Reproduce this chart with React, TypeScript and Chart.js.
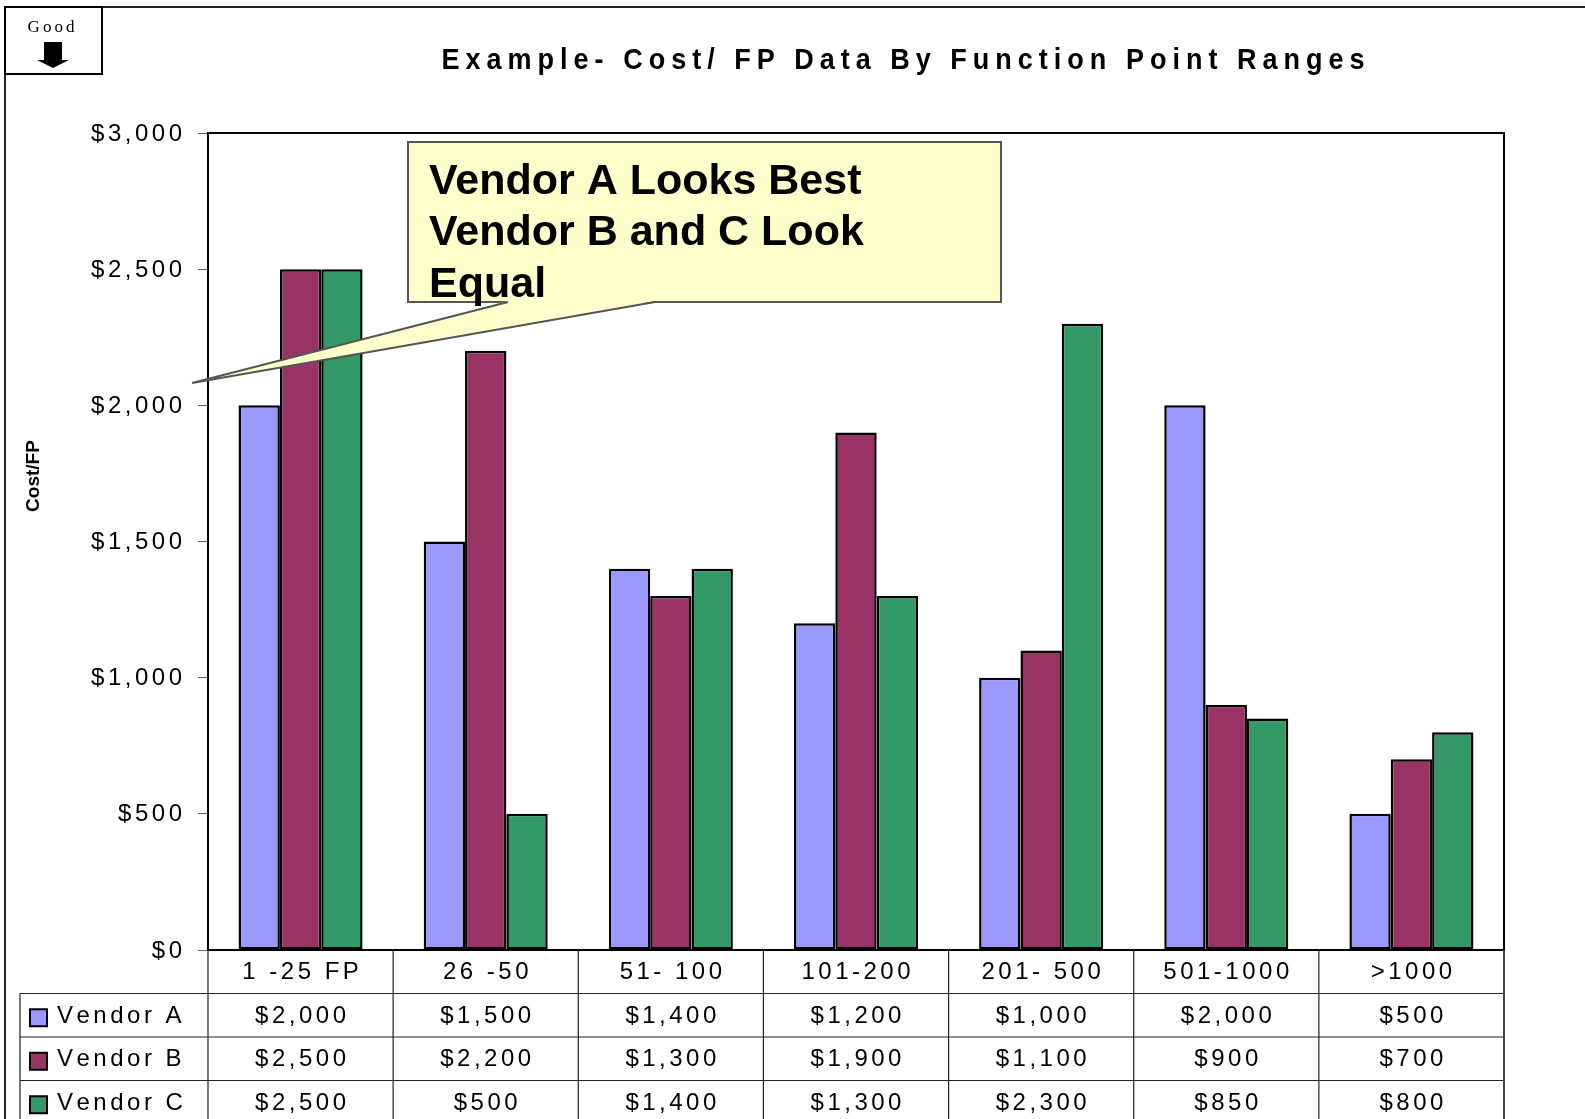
import React, { useEffect, useRef } from "react";
import { Chart, registerables } from "chart.js";

Chart.register(...registerables);

const categories = ["1 -25 FP", "26 -50", "51- 100", "101-200", "201- 500", "501-1000", ">1000"];
const vendorA = [2000, 1500, 1400, 1200, 1000, 2000, 500];
const vendorB = [2500, 2200, 1300, 1900, 1100, 900, 700];
const vendorC = [2500, 500, 1400, 1300, 2300, 850, 800];
const seriesNames = ["Vendor A", "Vendor B", "Vendor C"];
const seriesColors = ["#9999FF", "#993366", "#339966"];
const yMin = 0;
const yMax = 3000;
const yStep = 500;
const titleText = "Example- Cost/ FP Data By Function Point Ranges";
const yAxisTitle = "Cost/FP";
const calloutLines = ["Vendor A Looks Best", "Vendor B and C Look", "Equal"];
const badgeText = "Good";

const SANS = '"Liberation Sans", Arial, sans-serif';
const SERIF = '"Liberation Serif", "Times New Roman", serif';

const fmt = (v: number) => "$" + v.toLocaleString("en-US");

function drawSpaced(
  ctx: CanvasRenderingContext2D,
  text: string,
  x: number,
  y: number,
  spacing: number,
  align: "left" | "center" | "right",
  hScale = 1
) {
  const chars = Array.from(text);
  const widths = chars.map((c) => ctx.measureText(c).width * hScale);
  const total = widths.reduce((a, b) => a + b, 0) + spacing * (chars.length - 1);
  let cx = align === "center" ? x - total / 2 : align === "right" ? x - total : x;
  ctx.save();
  ctx.textAlign = "left";
  chars.forEach((c, i) => {
    ctx.save();
    ctx.translate(cx, y);
    ctx.scale(hScale, 1);
    ctx.fillText(c, 0, 0);
    ctx.restore();
    cx += widths[i] + spacing;
  });
  ctx.restore();
  return total;
}

const overlayPlugin = {
  id: "overlay",
  beforeDraw(chart: any) {
    const ctx = chart.ctx as CanvasRenderingContext2D;
    ctx.save();
    ctx.fillStyle = "#ffffff";
    ctx.fillRect(0, 0, chart.width, chart.height);
    ctx.restore();
  },
  afterDraw(chart: any) {
    const ctx = chart.ctx as CanvasRenderingContext2D;
    const ca = chart.chartArea;
    const xs = chart.scales.x;
    const ys = chart.scales.y;
    const H = chart.height;
    const W = chart.width;

    ctx.save();
    ctx.textBaseline = "middle";
    ctx.fillStyle = "#000";

    // plot frame top & right
    ctx.strokeStyle = "#000";
    ctx.lineWidth = 2;
    ctx.beginPath();
    ctx.moveTo(ca.left, ca.top);
    ctx.lineTo(ca.right, ca.top);
    ctx.lineTo(ca.right, ca.bottom);
    ctx.stroke();

    // y tick labels
    ctx.font = `24px ${SANS}`;
    ys.ticks.forEach((t: any) => {
      const py = ys.getPixelForValue(t.value);
      drawSpaced(ctx, fmt(t.value), ca.left - 26, py + 1, 3.5, "right");
    });

    // y axis title
    ctx.save();
    ctx.translate(34, 476);
    ctx.rotate(-Math.PI / 2);
    ctx.font = `bold 19px ${SANS}`;
    ctx.textAlign = "center";
    ctx.fillText(yAxisTitle, 0, 0);
    ctx.restore();

    // title (condensed, letter-spaced)
    ctx.font = `bold 30px ${SANS}`;
    {
      const hs = 0.9;
      const chars = Array.from(titleText);
      const raw = chars.reduce((a, c) => a + ctx.measureText(c).width * hs, 0);
      const sp = (923 - raw) / (chars.length - 1);
      drawSpaced(ctx, titleText, 903, 61, sp, "center", hs);
    }

    // data table
    const n = categories.length;
    const colW = (ca.right - ca.left) / n;
    const headerTop = ca.bottom;
    const rowH = 43.5;
    const rowTops = [headerTop + rowH, headerTop + 2 * rowH, headerTop + 3 * rowH];
    const tableLeft = 20;

    ctx.strokeStyle = "#222";
    ctx.lineWidth = 1.2;
    ctx.beginPath();
    for (let i = 0; i < n; i++) {
      const bx = xs.getPixelForValue(i) - colW / 2;
      ctx.moveTo(bx, headerTop);
      ctx.lineTo(bx, H);
    }
    ctx.moveTo(tableLeft, rowTops[0]);
    ctx.lineTo(tableLeft, H);
    rowTops.forEach((ry) => {
      ctx.moveTo(tableLeft, ry);
      ctx.lineTo(ca.right, ry);
    });
    ctx.stroke();
    ctx.strokeStyle = "#444";
    ctx.lineWidth = 2;
    ctx.beginPath();
    ctx.moveTo(ca.right, headerTop);
    ctx.lineTo(ca.right, H);
    ctx.stroke();

    ctx.fillStyle = "#000";
    ctx.font = `24px ${SANS}`;
    categories.forEach((c, i) => {
      drawSpaced(ctx, c, xs.getPixelForValue(i), headerTop + rowH / 2 + 0.5, 3.5, "center");
    });
    const allSeries = [vendorA, vendorB, vendorC];
    allSeries.forEach((vals, si) => {
      const cy = rowTops[si] + rowH / 2 + 1;
      // legend swatch
      ctx.fillStyle = seriesColors[si];
      ctx.fillRect(30, cy - 7, 17, 17);
      ctx.strokeStyle = "#000";
      ctx.lineWidth = 2;
      ctx.strokeRect(30, cy - 7, 17, 17);
      ctx.fillStyle = "#000";
      drawSpaced(ctx, seriesNames[si], 57, cy, 3.5, "left");
      vals.forEach((v, i) => {
        drawSpaced(ctx, fmt(v), xs.getPixelForValue(i), cy, 3.5, "center");
      });
    });

    // callout
    ctx.fillStyle = "#FFFFCC";
    ctx.strokeStyle = "#555";
    ctx.lineWidth = 2;
    ctx.fillRect(408, 142, 593, 160);
    ctx.strokeRect(408, 142, 593, 160);
    ctx.beginPath();
    ctx.moveTo(508, 301);
    ctx.lineTo(192, 383);
    ctx.lineTo(655, 301);
    ctx.closePath();
    ctx.fill();
    ctx.beginPath();
    ctx.moveTo(508, 302);
    ctx.lineTo(192, 383);
    ctx.lineTo(655, 302);
    ctx.stroke();
    ctx.fillStyle = "#000";
    ctx.font = `bold 43px ${SANS}`;
    ctx.textAlign = "left";
    calloutLines.forEach((l, i) => {
      ctx.fillText(l, 429, 182 + i * 51.5);
    });

    // outer frame
    ctx.strokeStyle = "#222";
    ctx.lineWidth = 2;
    ctx.beginPath();
    ctx.moveTo(102, 7);
    ctx.lineTo(W, 7);
    ctx.moveTo(5, 74);
    ctx.lineTo(5, H);
    ctx.stroke();

    // "Good" badge
    ctx.fillStyle = "#fff";
    ctx.fillRect(5, 7, 97, 67);
    ctx.strokeStyle = "#000";
    ctx.lineWidth = 2;
    ctx.strokeRect(5, 7, 97, 67);
    ctx.fillStyle = "#000";
    ctx.font = `17px ${SERIF}`;
    drawSpaced(ctx, badgeText, 51, 28, 3, "center");
    ctx.fillRect(44, 42, 18, 18);
    ctx.beginPath();
    ctx.moveTo(37, 60);
    ctx.lineTo(69, 60);
    ctx.lineTo(53, 68);
    ctx.closePath();
    ctx.fill();

    ctx.restore();
  },
};

export default function App() {
  const ref = useRef<HTMLCanvasElement | null>(null);

  useEffect(() => {
    document.body.style.margin = "0";
    document.body.style.overflow = "hidden";
    if (!ref.current) return;
    const series = [vendorA, vendorB, vendorC];
    const chart = new Chart(ref.current, {
      type: "bar",
      data: {
        labels: categories,
        datasets: series.map((vals, i) => ({
          label: seriesNames[i],
          data: vals,
          backgroundColor: seriesColors[i],
          borderColor: "#000",
          borderWidth: 2.5,
          borderSkipped: false,
          categoryPercentage: 0.67,
          barPercentage: 1,
        })),
      },
      options: {
        responsive: false,
        animation: false,
        devicePixelRatio: 1,
        layout: { padding: { left: 0, top: 133, right: 81, bottom: 0 } },
        plugins: {
          legend: { display: false },
          title: { display: false },
          tooltip: { enabled: false },
        },
        scales: {
          x: {
            type: "category",
            grid: { display: false },
            border: { display: true, color: "#000", width: 2 },
            ticks: { display: false },
            afterFit: (s: any) => {
              s.height = 169;
            },
          },
          y: {
            min: yMin,
            max: yMax,
            ticks: { stepSize: yStep, color: "rgba(0,0,0,0)", font: { size: 24 } },
            grid: { drawOnChartArea: false, drawTicks: true, tickLength: 10, color: "#666", lineWidth: 1 },
            border: { display: true, color: "#000", width: 2 },
            afterFit: (s: any) => {
              s.width = 208;
            },
          },
        },
      } as any,
      plugins: [overlayPlugin],
    });
    return () => chart.destroy();
  }, []);

  return (
    <div style={{ position: "absolute", left: 0, top: 0, width: 1585, height: 1119 }}>
      <canvas ref={ref} width={1585} height={1119} style={{ display: "block", width: 1585, height: 1119 }} />
    </div>
  );
}
